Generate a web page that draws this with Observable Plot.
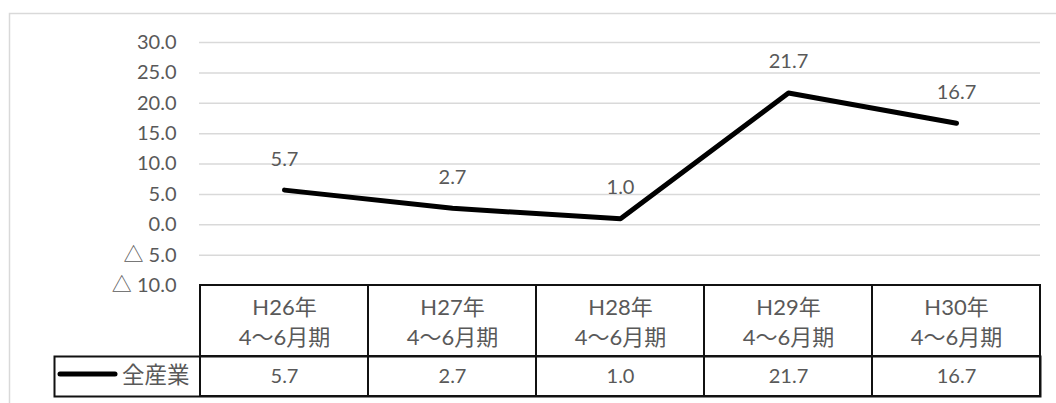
<!DOCTYPE html>
<html><head><meta charset="utf-8">
<script src="https://cdn.jsdelivr.net/npm/d3@7"></script>
<script src="https://cdn.jsdelivr.net/npm/@observablehq/plot@0.6"></script>
<style>html,body{margin:0;padding:0;background:#fff}</style>
</head><body><div id="chart"></div>
<script>
const periods = ["H26年\n4〜6月期", "H27年\n4〜6月期", "H28年\n4〜6月期", "H29年\n4〜6月期", "H30年\n4〜6月期"];
const values = [5.7, 2.7, 1.0, 21.7, 16.7];
const seriesName = "全産業";
const yTicks = [-10, -5, 0, 5, 10, 15, 20, 25, 30];

const data = periods.map((p, i) => ({period: p, value: values[i]}));
const fmt = d => d < 0 ? "△ " + Math.abs(d).toFixed(1) : d.toFixed(1);
const font = "Lato, 'Noto Sans CJK JP', sans-serif";
const gray = "#595959";

// legend swatch for the data-table row
const legendSwatch = (index, scales, values, dims) => {
  const y = dims.height - dims.marginBottom - 22;
  return d3.create("svg:line")
    .attr("x1", dims.marginLeft - 139).attr("x2", dims.marginLeft - 84)
    .attr("y1", y).attr("y2", y)
    .attr("stroke", "black").attr("stroke-width", 5).attr("stroke-linecap", "round")
    .node();
};

const plot = Plot.plot({
  width: 1056, height: 403,
  marginLeft: 199, marginRight: 16, marginTop: 42, marginBottom: 7,
  style: {fontFamily: font, fontSize: "20px", color: gray, background: "white", overflow: "visible"},
  x: {type: "band", domain: periods, padding: 0, axis: null},
  y: {domain: [-10, 30], range: [285, 42], axis: null},
  marks: [
    Plot.frame({stroke: "#d9d9d9", strokeWidth: 1.5, insetLeft: -190, insetTop: -29, insetRight: -30, insetBottom: -30}),
    Plot.gridY(yTicks.filter(t => t > -10), {stroke: "#d9d9d9", strokeOpacity: 1, strokeWidth: 1.5}),
    Plot.axisY(yTicks, {label: null, tickSize: 0, tickPadding: 23, tickFormat: fmt, fill: gray, fontSize: 20}),
    // data table: header row
    Plot.cell(periods, {x: d => d, fill: "none", stroke: "#111", strokeWidth: 2, insetTop: 243, insetBottom: 40}),
    Plot.text(periods, {x: d => d, text: d => d, frameAnchor: "bottom", lineAnchor: "middle", dy: -76, lineHeight: 1.36, fill: gray, fontSize: 22}),
    // data table: value row
    Plot.frame({stroke: "#111", strokeWidth: 2, insetLeft: -145, insetTop: 314}),
    Plot.cell(periods, {x: d => d, fill: "none", stroke: "#111", strokeWidth: 2, insetTop: 314}),
    Plot.text(data, {x: "period", text: d => d.value.toFixed(1), frameAnchor: "bottom", lineAnchor: "middle", dy: -20, fill: gray, fontSize: 20}),
    Plot.text([seriesName], {frameAnchor: "bottom-left", lineAnchor: "middle", textAnchor: "end", dx: -10, dy: -21, fill: gray, fontSize: 22.5}),
    legendSwatch,
    // line and labels
    Plot.line(data, {x: "period", y: "value", stroke: "black", strokeWidth: 5, strokeLinecap: "round", strokeLinejoin: "round"}),
    Plot.text(data, {x: "period", y: "value", text: d => d.value.toFixed(1), dy: -31, fill: gray, fontSize: 20})
  ]
});
document.getElementById("chart").appendChild(plot);
</script>
</body></html>
